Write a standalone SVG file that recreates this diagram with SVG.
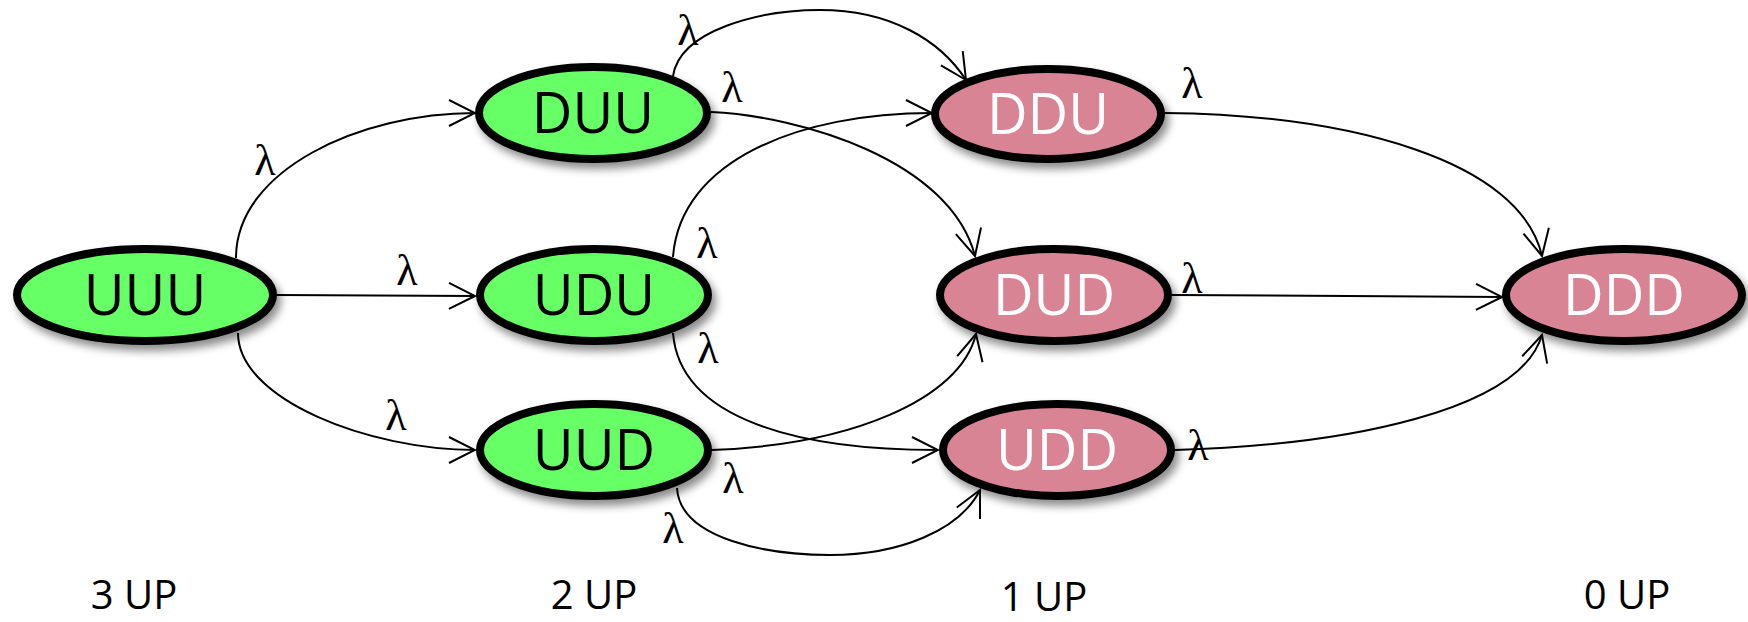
<svg xmlns="http://www.w3.org/2000/svg" width="1748" height="622" viewBox="0 0 1748 622">
<style>
.g{fill:#66FF66;stroke:#000;stroke-width:8}
.p{fill:#D88495;stroke:#000;stroke-width:8}
.nt{font-family:"Open Sans","Noto Sans",sans-serif;font-size:56px;text-anchor:middle}
.bk{fill:#000}
.wt{fill:#fff}
.lam{font-family:"Liberation Serif","DejaVu Serif",serif;font-size:44px;fill:#000;text-anchor:middle}
.lvl{font-family:"Open Sans","Noto Sans",sans-serif;font-size:40px;fill:#000;text-anchor:middle}
.c{fill:none;stroke:#000;stroke-width:2;marker-end:url(#arr)}
</style>
<defs>
<marker id="arr" viewBox="-28 -15 30 30" refX="0" refY="0" markerWidth="30" markerHeight="30" markerUnits="userSpaceOnUse" orient="auto">
<path d="M -26 -13 L 0 0 L -26 13" fill="none" stroke="#000" stroke-width="2"/>
</marker>
<filter id="sh" x="-20%" y="-30%" width="140%" height="170%">
<feDropShadow dx="4" dy="6" stdDeviation="4" flood-color="#000" flood-opacity="0.45"/>
</filter>
</defs>
<g id="connectors">
<path class="c" d="M 236 258 C 236 170, 360 113, 475 113"/>
<path class="c" d="M 277 295 L 475 296"/>
<path class="c" d="M 238 333 C 238 400, 370 450, 475 450"/>
<path class="c" d="M 673 76 C 680 30, 760 10, 820 10 C 890 10, 940 40, 966 80"/>
<path class="c" d="M 711 112 C 800 116, 950 160, 975 256"/>
<path class="c" d="M 673 257 C 680 160, 800 113, 932 113"/>
<path class="c" d="M 673 333 C 680 420, 800 450, 938 450"/>
<path class="c" d="M 711 450 C 850 445, 960 400, 976 334"/>
<path class="c" d="M 677 488 C 680 540, 770 555, 830 555 C 900 555, 960 530, 980 490"/>
<path class="c" d="M 1165 113 C 1350 115, 1520 160, 1542 256"/>
<path class="c" d="M 1172 295 L 1502 297"/>
<path class="c" d="M 1175 450 C 1350 445, 1520 410, 1542 335"/>
</g>
<g id="lambdas">
<text class="lam" x="265" y="175">λ</text>
<text class="lam" x="407" y="285">λ</text>
<text class="lam" x="396" y="430">λ</text>
<text class="lam" x="688" y="45">λ</text>
<text class="lam" x="732" y="102">λ</text>
<text class="lam" x="1192" y="98">λ</text>
<text class="lam" x="707" y="258">λ</text>
<text class="lam" x="708" y="363">λ</text>
<text class="lam" x="1192" y="293">λ</text>
<text class="lam" x="733" y="493">λ</text>
<text class="lam" x="673" y="543">λ</text>
<text class="lam" x="1198" y="460">λ</text>
</g>
<g id="UUU" filter="url(#sh)"><ellipse class="g" cx="145" cy="295" rx="128" ry="46"/><text class="nt bk" x="145" y="315">UUU</text></g>
<g id="DUU" filter="url(#sh)"><ellipse class="g" cx="593" cy="113" rx="114" ry="46"/><text class="nt bk" x="593" y="133">DUU</text></g>
<g id="UDU" filter="url(#sh)"><ellipse class="g" cx="594" cy="295" rx="114" ry="46"/><text class="nt bk" x="594" y="315">UDU</text></g>
<g id="UUD" filter="url(#sh)"><ellipse class="g" cx="594" cy="450" rx="114" ry="46"/><text class="nt bk" x="594" y="470">UUD</text></g>
<g id="DDU" filter="url(#sh)"><ellipse class="p" cx="1048" cy="114" rx="113" ry="45"/><text class="nt wt" x="1048" y="134">DDU</text></g>
<g id="DUD" filter="url(#sh)"><ellipse class="p" cx="1054" cy="295" rx="114" ry="46"/><text class="nt wt" x="1054" y="315">DUD</text></g>
<g id="UDD" filter="url(#sh)"><ellipse class="p" cx="1057" cy="450" rx="114" ry="46"/><text class="nt wt" x="1057" y="470">UDD</text></g>
<g id="DDD" filter="url(#sh)"><ellipse class="p" cx="1624" cy="295" rx="118" ry="46"/><text class="nt wt" x="1624" y="315">DDD</text></g>
<g id="levels">
<text class="lvl" x="134" y="609">3 UP</text>
<text class="lvl" x="594" y="609">2 UP</text>
<text class="lvl" x="1044" y="611">1 UP</text>
<text class="lvl" x="1627" y="609">0 UP</text>
</g>
</svg>
